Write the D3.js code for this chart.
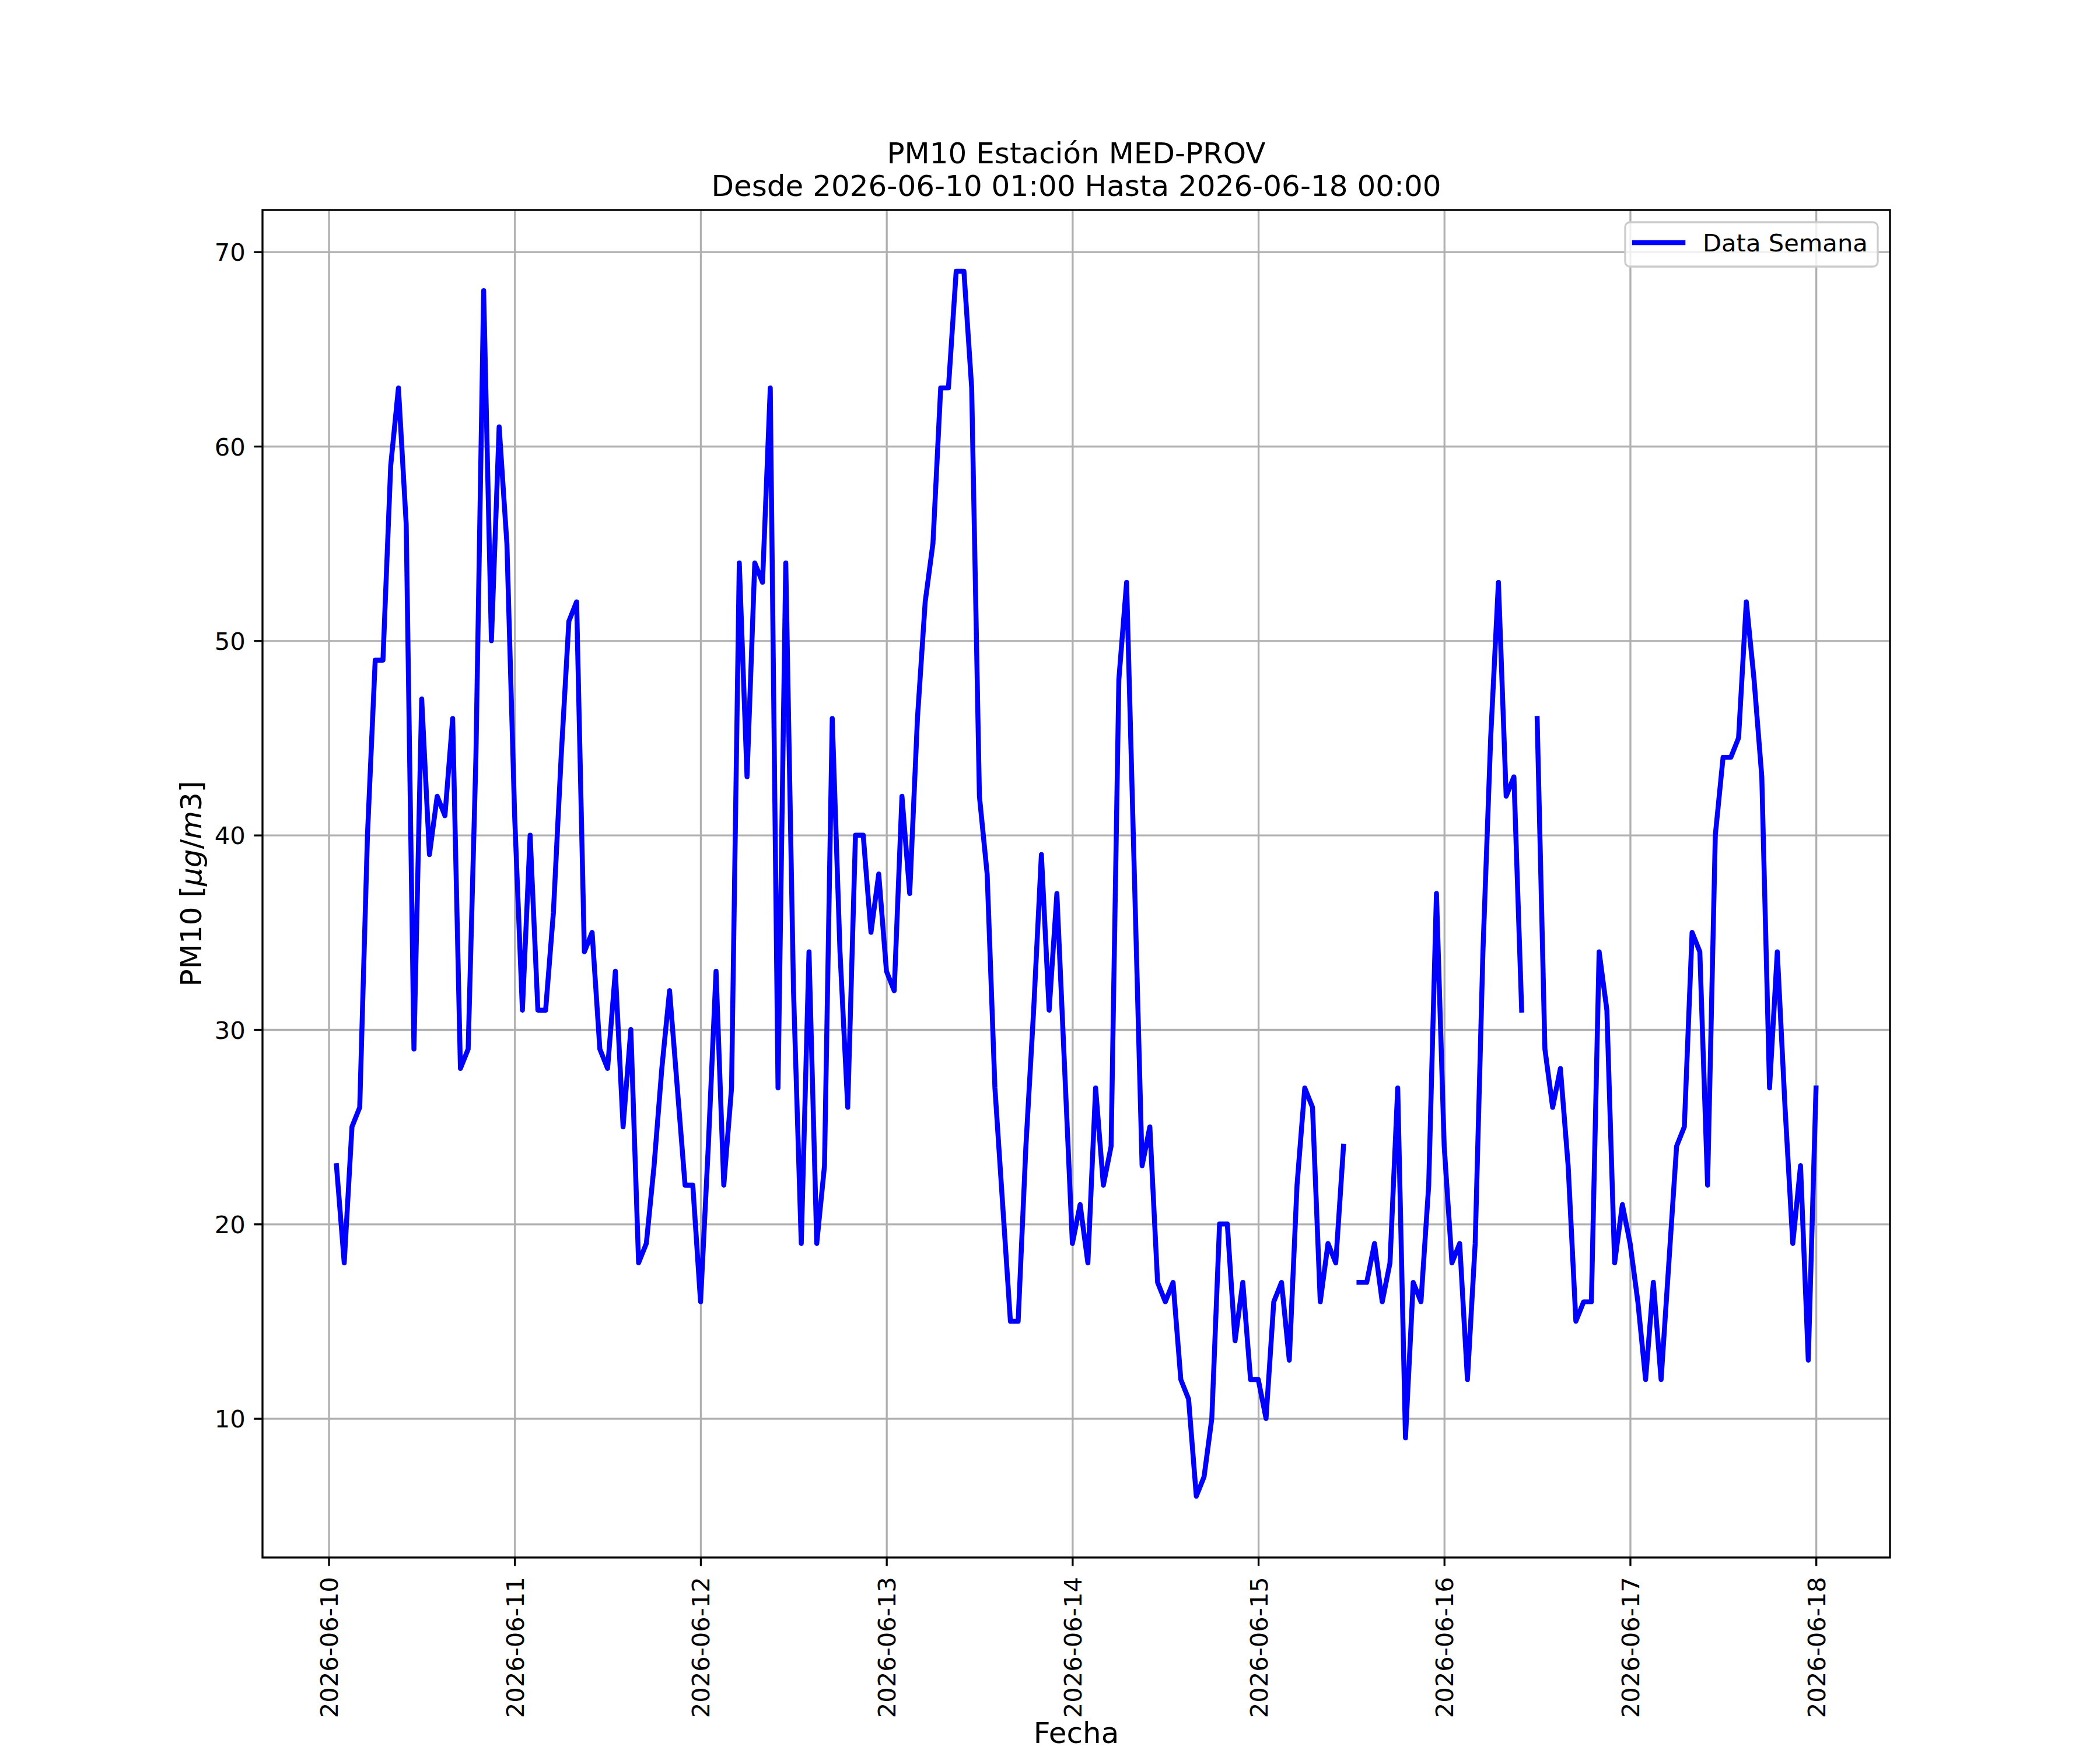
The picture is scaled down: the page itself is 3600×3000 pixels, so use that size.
<!DOCTYPE html>
<html>
<head>
<meta charset="utf-8">
<script src="https://cdn.jsdelivr.net/npm/d3@7"></script>
<style>
    body { margin: 0; background: #ffffff; }
    svg { display: block; font-family: "DejaVu Sans", sans-serif; }
</style>
</head>
<body>
<svg id="pm10-chart"></svg>
<script>

// hourly series, first value at 2026-06-10 01:00, null = no data
const seriesStart = '2026-06-10T01:00:00Z';
const seriesEnd = '2026-06-18T00:00:00Z';

const pm10 = [
    23, 18, 25, 26, 40, 49, 49, 59, 63, 56, 29, 47, 39, 42, 41, 46, 28, 29, 44, 68, 50, 61, 55, 41,
    31, 40, 31, 31, 36, 44, 51, 52, 34, 35, 29, 28, 33, 25, 30, 18, 19, 23, 28, 32, 27, 22, 22, 16,
    24, 33, 22, 27, 54, 43, 54, 53, 63, 27, 54, 32, 19, 34, 19, 23, 46, 34, 26, 40, 40, 35, 38, 33,
    32, 42, 37, 46, 52, 55, 63, 63, 69, 69, 63, 42, 38, 27, 21, 15, 15, 24, 31, 39, 31, 37, 28, 19,
    21, 18, 27, 22, 24, 48, 53, 38, 23, 25, 17, 16, 17, 12, 11, 6, 7, 10, 20, 20, 14, 17, 12, 12,
    10, 16, 17, 13, 22, 27, 26, 16, 19, 18, 24, null, 17, 17, 19, 16, 18, 27, 9, 17, 16, 22, 37, 24,
    18, 19, 12, 19, 34, 45, 53, 42, 43, 31, null, 46, 29, 26, 28, 23, 15, 16, 16, 34, 31, 18, 21, 19,
    16, 12, 17, 12, 18, 24, 25, 35, 34, 22, 40, 44, 44, 45, 52, 48, 43, 27, 34, 26, 19, 23, 13, 27
];

const yTickValues = [10, 20, 30, 40, 50, 60, 70];
const xTickLabels = ['2026-06-10', '2026-06-11', '2026-06-12', '2026-06-13', '2026-06-14',
    '2026-06-15', '2026-06-16', '2026-06-17', '2026-06-18'];

const titleLines = ['PM10 Estación MED-PROV', 'Desde 2026-06-10 01:00 Hasta 2026-06-18 00:00'];
const legendLabel = 'Data Semana';

let width = 3600;
let height = 3000;
let frame = {left: 450, right: 3240, top: 360, bottom: 2670};
let tickFont = 41.67;
let labelFont = 50;
let tickLen = 14.6;
let thin = 3.33;

let svg = d3.select('#pm10-chart')
        .attr('width', width)
        .attr('height', height);

svg.append('rect')
        .attr('width', width)
        .attr('height', height)
        .attr('fill', '#ffffff');

let t0 = new Date(seriesStart);
let t1 = new Date(seriesEnd);
let points = pm10.map((v, i) => ({date: d3.utcHour.offset(t0, i), value: v}));

// matplotlib style 5% margins
let span = t1 - t0;
let x = d3.scaleUtc()
        .domain([new Date(+t0 - span * 0.05), new Date(+t1 + span * 0.05)])
        .range([frame.left, frame.right]);

let present = pm10.filter(v => v !== null);
let yMin = d3.min(present), yMax = d3.max(present);
let yPad = (yMax - yMin) * 0.05;
let y = d3.scaleLinear()
        .domain([yMin - yPad, yMax + yPad])
        .range([frame.bottom, frame.top]);

let xTickDates = xTickLabels.map(s => new Date(s + 'T00:00:00Z'));
let plotH = frame.bottom - frame.top;
let plotW = frame.right - frame.left;

// grid
let grid = svg.append('g');
grid.append('g')
        .attr('transform', `translate(0,${frame.bottom})`)
        .call(d3.axisBottom(x).tickValues(xTickDates).tickSize(-plotH).tickFormat(''))
        .call(g => g.select('.domain').remove())
        .call(g => g.selectAll('line').attr('stroke', '#b0b0b0').attr('stroke-width', thin));
grid.append('g')
        .attr('transform', `translate(${frame.left},0)`)
        .call(d3.axisLeft(y).tickValues(yTickValues).tickSize(-plotW).tickFormat(''))
        .call(g => g.select('.domain').remove())
        .call(g => g.selectAll('line').attr('stroke', '#b0b0b0').attr('stroke-width', thin));

// the series
let line = d3.line()
        .defined(d => d.value !== null)
        .x(d => x(d.date))
        .y(d => y(d.value));

svg.append('path')
        .datum(points)
        .attr('d', line)
        .attr('fill', 'none')
        .attr('stroke', '#0000ff')
        .attr('stroke-width', 8.5)
        .attr('stroke-linejoin', 'round')
        .attr('stroke-linecap', 'square');

// axes
let xAxis = svg.append('g')
        .attr('transform', `translate(0,${frame.bottom})`)
        .call(d3.axisBottom(x)
                .tickValues(xTickDates)
                .tickSize(tickLen)
                .tickPadding(tickLen)
                .tickFormat(d3.utcFormat('%Y-%m-%d')));
xAxis.select('.domain').remove();
xAxis.selectAll('line').attr('stroke', '#000').attr('stroke-width', thin);
xAxis.selectAll('text')
        .attr('font-family', '"DejaVu Sans", sans-serif')
        .attr('font-size', tickFont)
        .attr('fill', '#000')
        .attr('y', 0)
        .attr('x', -(tickLen * 2 + 4))
        .attr('dy', '0.36em')
        .attr('transform', 'rotate(-90)')
        .style('text-anchor', 'end');

let yAxis = svg.append('g')
        .attr('transform', `translate(${frame.left},0)`)
        .call(d3.axisLeft(y)
                .tickValues(yTickValues)
                .tickSize(tickLen)
                .tickPadding(tickLen));
yAxis.select('.domain').remove();
yAxis.selectAll('line').attr('stroke', '#000').attr('stroke-width', thin);
yAxis.selectAll('text')
        .attr('font-family', '"DejaVu Sans", sans-serif')
        .attr('font-size', tickFont)
        .attr('fill', '#000')
        .attr('dy', '0.36em');

// spines
svg.append('rect')
        .attr('x', frame.left)
        .attr('y', frame.top)
        .attr('width', plotW)
        .attr('height', plotH)
        .attr('fill', 'none')
        .attr('stroke', '#000')
        .attr('stroke-width', thin);

// title
let midX = (frame.left + frame.right) / 2;
svg.append('text')
        .attr('text-anchor', 'middle')
        .attr('font-size', labelFont)
        .selectAll('tspan')
        .data(titleLines)
        .join('tspan')
        .attr('x', midX)
        .attr('y', (d, i) => 280 + i * 56)
        .text(d => d);

// axis labels
svg.append('text')
        .attr('x', midX)
        .attr('y', 2988)
        .attr('text-anchor', 'middle')
        .attr('font-size', labelFont)
        .text('Fecha');

let yLabel = svg.append('text')
        .attr('transform', `translate(345,${(frame.top + frame.bottom) / 2}) rotate(-90)`)
        .attr('text-anchor', 'middle')
        .attr('font-size', labelFont);
yLabel.append('tspan').text('PM10 [');
yLabel.append('tspan').attr('font-style', 'italic').text('μg');
yLabel.append('tspan').text('/');
yLabel.append('tspan').attr('font-style', 'italic').text('m');
yLabel.append('tspan').text('3]');

// legend
let legend = svg.append('g');
legend.append('rect')
        .attr('x', 2786)
        .attr('y', 381)
        .attr('width', 433)
        .attr('height', 76)
        .attr('rx', 8)
        .attr('fill', '#ffffff')
        .attr('fill-opacity', 0.8)
        .attr('stroke', '#cccccc')
        .attr('stroke-width', thin);
legend.append('line')
        .attr('x1', 2802)
        .attr('x2', 2885)
        .attr('y1', 416)
        .attr('y2', 416)
        .attr('stroke', '#0000ff')
        .attr('stroke-width', 8.5)
        .attr('stroke-linecap', 'square');
legend.append('text')
        .attr('x', 2919)
        .attr('y', 431)
        .attr('font-size', tickFont)
        .text(legendLabel);

</script>
</body>
</html>
